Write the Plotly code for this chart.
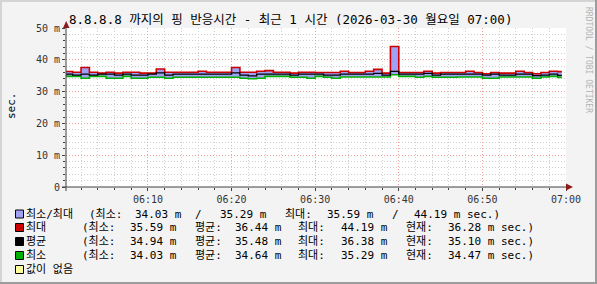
import plotly.graph_objects as go
import pandas as pd

# ---------------- data ----------------
start_time = "2026-03-30 06:00:00"
end_time = "2026-03-30 06:59:30"
times = list(pd.date_range(start_time, periods=60, freq="min")) + [pd.Timestamp(end_time)]

max_ms = [36.3, 36.1, 37.6, 36.1, 35.8, 36.1, 35.8, 36.1, 36.1, 35.8,
          35.8, 37.1, 36.1, 36.1, 36.1, 36.1, 36.4, 36.1, 36.1, 36.1,
          37.6, 36.1, 36.1, 36.4, 36.6, 36.1, 36.1, 35.8, 36.1, 36.1,
          36.0, 36.0, 36.0, 36.4, 36.0, 36.0, 36.4, 37.0, 35.8, 44.19,
          36.0, 36.0, 36.0, 36.4, 35.8, 36.0, 36.0, 36.0, 36.4, 36.0,
          35.59, 36.0, 35.8, 35.8, 36.4, 36.0, 35.6, 36.0, 36.4, 36.28]
avg_ms = [35.5, 35.2, 35.5, 35.2, 35.5, 35.5, 35.2, 35.5, 35.2, 35.2,
          35.5, 35.9, 35.2, 35.5, 35.5, 35.5, 35.5, 35.5, 35.5, 35.5,
          35.9, 35.2, 34.94, 35.5, 35.5, 35.5, 35.5, 35.2, 35.5, 35.5,
          35.5, 35.2, 35.2, 35.5, 35.5, 35.5, 35.5, 35.7, 35.2, 36.38,
          35.5, 35.5, 35.5, 35.7, 35.2, 35.5, 35.5, 35.5, 35.5, 35.5,
          35.2, 35.5, 35.2, 35.2, 35.5, 35.5, 35.0, 35.2, 35.5, 35.10]
min_ms = [34.8, 34.8, 34.2, 34.8, 34.8, 34.2, 34.2, 34.8, 34.2, 34.2,
          34.5, 34.5, 34.2, 34.5, 34.5, 34.5, 34.5, 34.5, 34.5, 34.5,
          34.5, 34.2, 34.03, 34.2, 34.8, 34.8, 34.8, 34.5, 34.5, 34.2,
          34.8, 34.5, 34.2, 34.6, 34.6, 34.6, 34.6, 34.6, 34.6, 35.29,
          34.8, 34.8, 34.5, 34.8, 34.5, 34.5, 34.5, 34.6, 34.6, 34.6,
          34.2, 34.2, 34.6, 34.6, 34.6, 34.6, 34.2, 34.6, 34.8, 34.47]

x_tick_vals = ["2026-03-30 06:10", "2026-03-30 06:20", "2026-03-30 06:30",
               "2026-03-30 06:40", "2026-03-30 06:50", "2026-03-30 07:00"]
y_tick_vals = [0, 10, 20, 30, 40, 50]
y_tick_text = ["0", "10 m", "20 m", "30 m", "40 m", "50 m"]

title_text = "8.8.8.8 까지의 핑 반응시간 - 최근 1 시간 (2026-03-30 월요일 07:00)"

legend_rows = [
    ("최소/최대", "#a0a0f4", [("(최소:", 87), ("34.03 m", 133), ("/", 193), ("35.29 m", 218),
                          ("최대:", 283), ("35.59 m", 325), ("/", 390), ("44.19 m sec.)", 412)]),
    ("최대", "#cc0000", [("(최소:", 80), ("35.59 m", 128), ("평균:", 193), ("36.44 m", 233),
                       ("최대:", 296), ("44.19 m", 339), ("현재:", 404), ("36.28 m sec.)", 446)]),
    ("평균", "#000000", [("(최소:", 80), ("34.94 m", 128), ("평균:", 193), ("35.48 m", 233),
                       ("최대:", 296), ("36.38 m", 339), ("현재:", 404), ("35.10 m sec.)", 446)]),
    ("최소", "#00b000", [("(최소:", 80), ("34.03 m", 128), ("평균:", 193), ("34.64 m", 233),
                       ("최대:", 296), ("35.29 m", 339), ("현재:", 404), ("34.47 m sec.)", 446)]),
    ("값이 없음", "#ffffa0", []),
]

# ---------------- layout geometry ----------------
W, H = 597, 284
L, R, T, B = 66, 566, 28, 187
MONO = "DejaVu Sans Mono, Noto Sans CJK KR, monospace"


def px(x):
    return (x - L) / (R - L)


def py(y):
    return (B - y) / (B - T)


maxs = max_ms + [max_ms[-1]]
avgs = avg_ms + [avg_ms[-1]]
mins = min_ms + [min_ms[-1]]

fig = go.Figure()
# band fill between min and max
fig.add_trace(go.Scatter(x=times, y=mins, mode="lines", line=dict(width=0, shape="hv"),
                         showlegend=False, hoverinfo="skip"))
fig.add_trace(go.Scatter(x=times, y=maxs, mode="lines", line=dict(width=0, shape="hv"),
                         fill="tonexty", fillcolor="#a0a0f4", showlegend=False, hoverinfo="skip"))
# lines
fig.add_trace(go.Scatter(x=times, y=maxs, mode="lines", line=dict(color="#cc0000", width=1.6, shape="hv"),
                         showlegend=False))
fig.add_trace(go.Scatter(x=times, y=mins, mode="lines", line=dict(color="#00b000", width=1.6, shape="hv"),
                         showlegend=False))
fig.add_trace(go.Scatter(x=times, y=avgs, mode="lines", line=dict(color="#000000", width=1.3, shape="hv"),
                         showlegend=False))

shapes = []
# axis lines
shapes.append(dict(type="line", xref="paper", yref="paper", x0=px(62), x1=px(568), y0=0, y1=0,
                   line=dict(color="#404040", width=1)))
shapes.append(dict(type="line", xref="paper", yref="paper", x0=0, x1=0, y0=py(191), y1=py(26),
                   line=dict(color="#404040", width=1)))
# arrows
shapes.append(dict(type="path", xref="paper", yref="paper",
                   path=f"M{px(63)},{py(28)} L{px(69.5)},{py(28)} L{px(66.2)},{py(21)} Z",
                   fillcolor="#8b1a1a", line=dict(width=0)))
shapes.append(dict(type="path", xref="paper", yref="paper",
                   path=f"M{px(566)},{py(183.5)} L{px(566)},{py(190.5)} L{px(573)},{py(187)} Z",
                   fillcolor="#8b1a1a", line=dict(width=0)))
# outer border (3D shade)
shapes.append(dict(type="line", xref="paper", yref="paper", x0=px(0), x1=px(W), y0=py(1), y1=py(1),
                   line=dict(color="#d4d4d4", width=2)))
shapes.append(dict(type="line", xref="paper", yref="paper", x0=px(1), x1=px(1), y0=py(0), y1=py(H),
                   line=dict(color="#d4d4d4", width=2)))
shapes.append(dict(type="line", xref="paper", yref="paper", x0=px(0), x1=px(W), y0=py(H - 1), y1=py(H - 1),
                   line=dict(color="#9c9c9c", width=2)))
shapes.append(dict(type="line", xref="paper", yref="paper", x0=px(W - 1), x1=px(W - 1), y0=py(0), y1=py(H),
                   line=dict(color="#9c9c9c", width=2)))

annotations = []
annotations.append(dict(text=title_text, xref="paper", yref="paper", x=px(67), y=py(19),
                        xanchor="left", yanchor="middle", showarrow=False,
                        font=dict(family=MONO, size=12.5, color="#000000")))
annotations.append(dict(text="sec.", xref="paper", yref="paper", x=px(11), y=py(106),
                        xanchor="center", yanchor="middle", textangle=-90, showarrow=False,
                        font=dict(family=MONO, size=11, color="#000000")))
annotations.append(dict(text="RRDTOOL / TOBI OETIKER", xref="paper", yref="paper", x=px(589), y=py(5),
                        xanchor="center", yanchor="top", textangle=90, showarrow=False,
                        font=dict(family=MONO, size=8, color="#b4b4b4")))

row_y = [214, 227.5, 241.5, 255.5, 269.5]
for (label, color, parts), yy in zip(legend_rows, row_y):
    shapes.append(dict(type="rect", xref="paper", yref="paper", x0=px(15.5), x1=px(23.5),
                       y0=py(yy - 4), y1=py(yy + 4), fillcolor=color, line=dict(color="#000000", width=1)))
    annotations.append(dict(text=label, xref="paper", yref="paper", x=px(23.5), y=py(yy),
                            xanchor="left", yanchor="middle", showarrow=False,
                            font=dict(family=MONO, size=11, color="#000000")))
    for txt, xx in parts:
        annotations.append(dict(text=txt, xref="paper", yref="paper", x=px(xx), y=py(yy),
                                xanchor="left", yanchor="middle", showarrow=False,
                                font=dict(family=MONO, size=11, color="#000000")))

fig.update_layout(
    width=W, height=H,
    margin=dict(l=L, r=W - R, t=T, b=H - B, pad=0),
    paper_bgcolor="#f3f3f3", plot_bgcolor="#ffffff",
    showlegend=False,
    shapes=shapes, annotations=annotations,
    xaxis=dict(type="date", range=["2026-03-30 06:00:12", "2026-03-30 07:00:00"],
               tickvals=x_tick_vals, tickformat="%H:%M",
               tickfont=dict(family=MONO, size=10, color="#333333"),
               showgrid=True, gridcolor="#f2a0a0", griddash="1px,2px", gridwidth=1,
               ticks="outside", ticklen=3, tickcolor="#404040",
               minor=dict(dtick=120000, tick0="2026-03-30 06:00", showgrid=True, gridcolor="#cfcfcf",
                          griddash="1px,2px", ticks="outside", ticklen=2, tickcolor="#404040"),
               showline=False, zeroline=False, fixedrange=True),
    yaxis=dict(range=[0, 50], tickvals=y_tick_vals, ticktext=y_tick_text,
               tickfont=dict(family=MONO, size=10, color="#333333"),
               showgrid=True, gridcolor="#f2a0a0", griddash="1px,2px", gridwidth=1,
               ticks="outside", ticklen=3, tickcolor="#404040",
               minor=dict(dtick=2, showgrid=True, gridcolor="#cfcfcf", griddash="1px,2px",
                          ticks="outside", ticklen=2, tickcolor="#404040"),
               showline=False, zeroline=False, fixedrange=True),
)

fig.write_html("out.html")
